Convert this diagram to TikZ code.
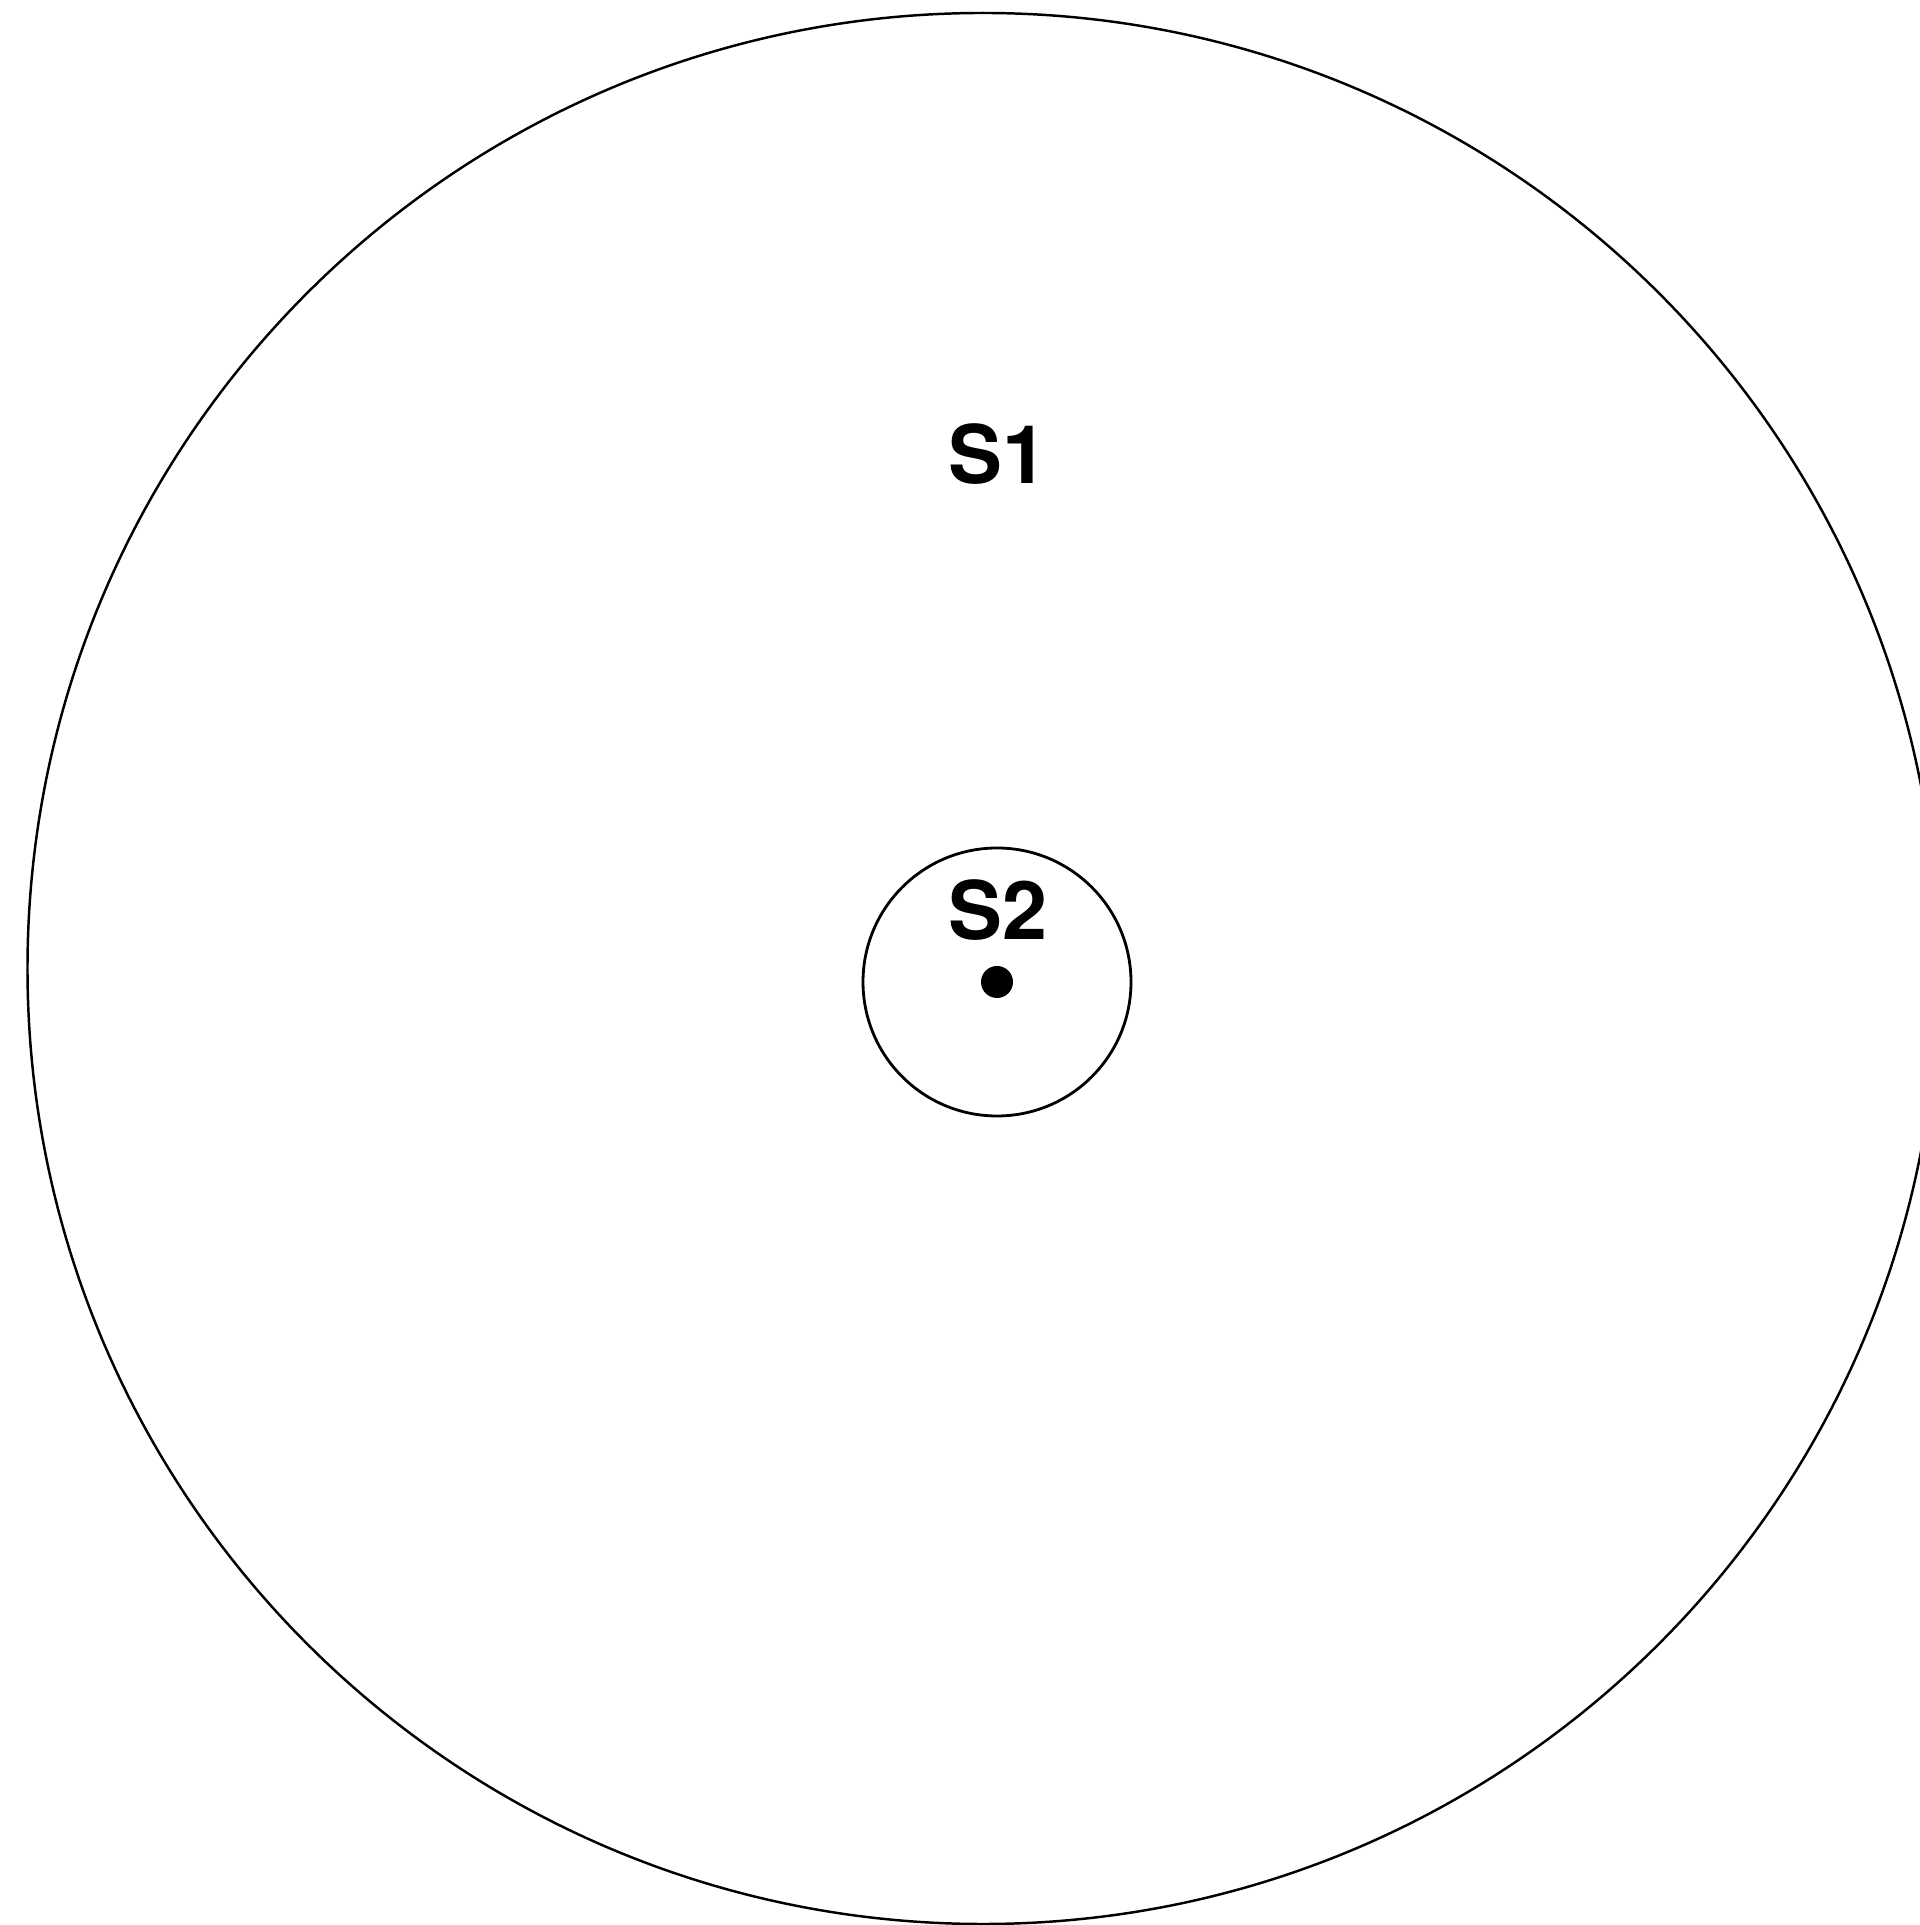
\documentclass[tikz,border=0pt]{standalone}
\usepackage{fontspec}
\setmainfont{TeX Gyre Heros}
\usepackage{tikz}

\begin{document}
\begin{tikzpicture}[
  setline/.style={line width=0.7pt},
  setlabel/.style={font=\fontsize{23}{27}\selectfont\bfseries, inner sep=0pt}
]
\clip (0,0) rectangle (19.2,19.25);
\draw[setline] (9.83,9.565) circle (9.555);
\draw[setline, line width=0.8pt] (9.97,9.43) circle (1.34);
\fill (9.97,9.43) circle (0.16);
\node[setlabel] (s1) at (9.98,14.71) {S1};
\node[setlabel] (s2) at (9.98,10.15) {S2};
\end{tikzpicture}
\end{document}
